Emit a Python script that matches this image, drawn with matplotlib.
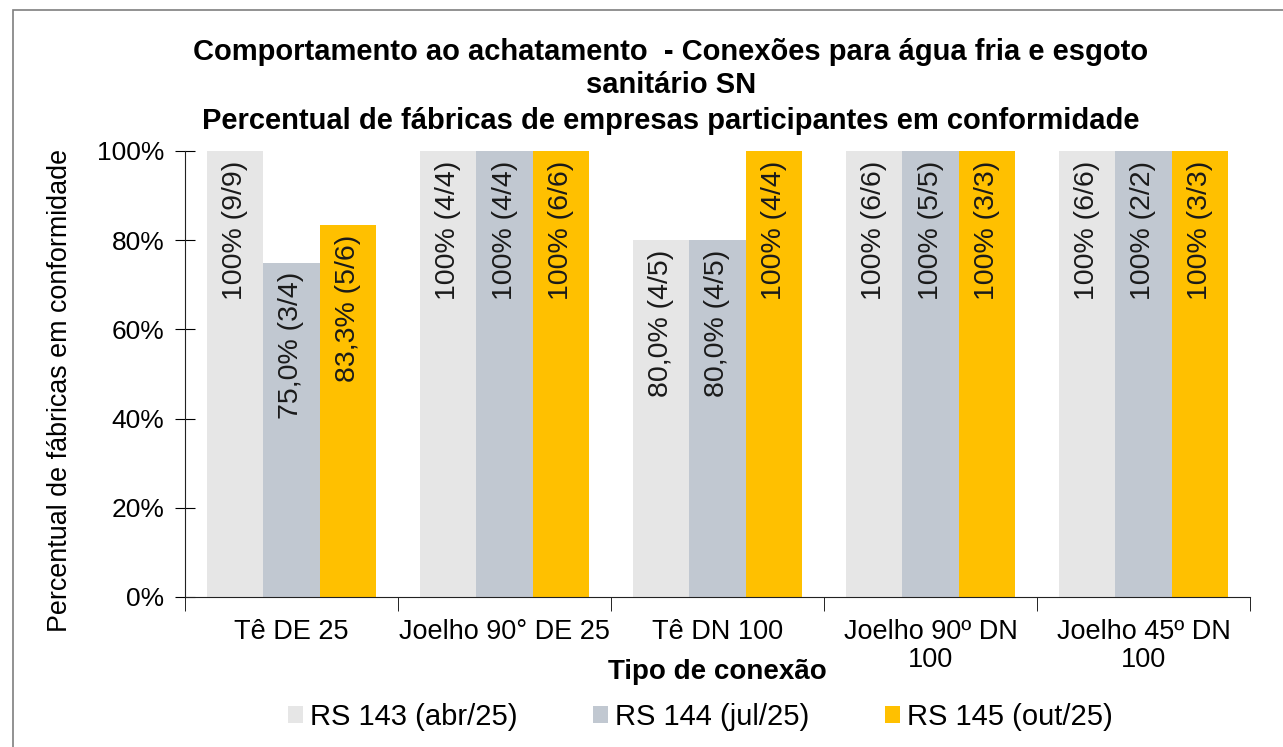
import matplotlib.pyplot as plt
from matplotlib.patches import Rectangle
import numpy as np

plt.rcParams['font.family'] = ['Liberation Sans', 'DejaVu Sans']

categories = ['Tê DE 25', 'Joelho 90° DE 25', 'Tê DN 100', 'Joelho 90º DN\n100', 'Joelho 45º DN\n100']
series = ['RS 143 (abr/25)', 'RS 144 (jul/25)', 'RS 145 (out/25)']
colors = ['#E6E6E6', '#C1C8D1', '#FFC000']

# approved / total factories per round
approved = [
    [9, 4, 4, 6, 6],
    [3, 4, 4, 5, 2],
    [5, 6, 4, 3, 3],
]
totals = [
    [9, 4, 5, 6, 6],
    [4, 4, 5, 5, 2],
    [6, 6, 4, 3, 3],
]

title_lines = ['Comportamento ao achatamento  - Conexões para água fria e esgoto',
               'sanitário SN',
               'Percentual de fábricas de empresas participantes em conformidade']

def fmt(a, t):
    p = 100 * a / t
    if a == t:
        return f'100% ({a}/{t})'
    return f'{p:.1f}'.replace('.', ',') + f'% ({a}/{t})'

fig = plt.figure(figsize=(12.83, 7.47), dpi=100)
ax = fig.add_axes([185 / 1283, 1 - 597 / 747, 1065 / 1283, 446 / 747])

x = np.arange(len(categories))
width = 0.263
for i, name in enumerate(series):
    vals = [100 * a / t for a, t in zip(approved[i], totals[i])]
    pos = x + (i - 1) * width
    ax.bar(pos, vals, width, color=colors[i], label=name)
    for px, v, a, t in zip(pos, vals, approved[i], totals[i]):
        ax.annotate(fmt(a, t), (px, v), xytext=(0, -7), textcoords='offset points',
                    rotation=90, ha='center', va='top', fontsize=20.5, color='#1a1a1a')

ax.set_xlim(-0.5, len(categories) - 0.5)
ax.set_ylim(0, 100)
ax.set_yticks(range(0, 101, 20))
ax.set_yticklabels([f'{v}%' for v in range(0, 101, 20)], fontsize=19)
ax.tick_params(axis='y', direction='inout', length=14, pad=8)

ax.set_xticks(x)
ax.set_xticklabels(categories, fontsize=19.5, linespacing=1.1)
ax.tick_params(axis='x', length=0, pad=16)
ax.set_xticks(np.arange(-0.5, len(categories)), minor=True)
ax.tick_params(axis='x', which='minor', direction='out', length=10)

for s in ['top', 'right']:
    ax.spines[s].set_visible(False)
ax.spines['left'].set_color('#222222')
ax.spines['bottom'].set_color('#222222')

ax.set_xlabel('Tipo de conexão', fontsize=20, fontweight='bold')
ax.xaxis.set_label_coords(0.5, -(672 - 597) / 446)
ax.xaxis.label.set_va('center')
ax.set_ylabel('Percentual de fábricas em conformidade', fontsize=19.4)
ax.yaxis.set_label_coords((60 - 185) / 1065, (597 - 390) / 446)
ax.yaxis.label.set_va('center')

for ty, line in zip([52, 85, 121], title_lines):
    fig.text(0.523, 1 - ty / 747, line, ha='center', va='center', fontsize=21, fontweight='bold')

ax.legend(loc='center', bbox_to_anchor=(0.5 - 17 / 1065, (717 - 597) / -446), ncol=3, frameon=False,
          fontsize=21, handlelength=0.5, handleheight=0.5, handletextpad=0.25, columnspacing=2.6)

fig.patches.append(Rectangle((13 / 1283, -0.1), 1.2, 1.1 - 10 / 747, transform=fig.transFigure,
                             fill=False, edgecolor='#7f7f7f', linewidth=1.2))

fig.savefig('out.png', dpi=100)
